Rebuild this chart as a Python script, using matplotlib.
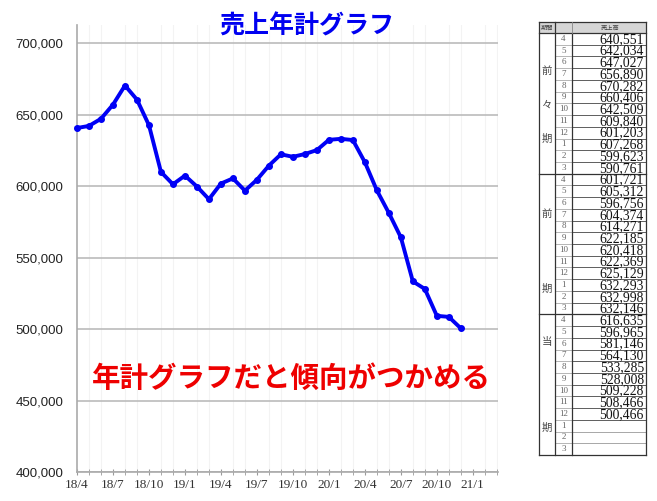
import matplotlib
matplotlib.use('Agg')

import numpy as np
import matplotlib.pyplot as plt
from matplotlib.patches import Rectangle
from matplotlib.ticker import FuncFormatter, MultipleLocator

# data (annual moving total of sales)
sales = [640551, 642034, 647027, 656890, 670282, 660406, 642509, 609840, 601203, 607268, 599623, 590761,
         601721, 605312, 596756, 604374, 614271, 622185, 620418, 622369, 625129, 632293, 632998, 632146,
         616635, 596965, 581146, 564130, 533285, 528008, 509228, 508466, 500466]
months = [4, 5, 6, 7, 8, 9, 10, 11, 12, 1, 2, 3]
periods = ['前々期', '前期', '当期']
xlabels = ['18/4', '18/7', '18/10', '19/1', '19/4', '19/7', '19/10', '20/1', '20/4', '20/7', '20/10', '21/1']

W, H = 657, 501
fig = plt.figure(figsize=(W / 100, H / 100), dpi=100)

# ---- line chart ----
ax = fig.add_axes([77 / W, 29 / H, 421 / W, 447 / H])
x = np.arange(len(sales))
ax.plot(x, sales, color='#0000f5', lw=2.8, marker='o', ms=4, clip_on=False, zorder=3)
ax.set_xlim(0, 35.1)
ax.set_ylim(400000, 712600)
ax.yaxis.set_major_locator(MultipleLocator(50000))
ax.yaxis.set_major_formatter(FuncFormatter(lambda v, p: '{:,.0f}'.format(v)))
ax.set_xticks(np.arange(0, 34, 3))
ax.set_xticklabels(xlabels, family='Liberation Serif', fontsize=9.5, color='#333333')
ax.set_xticks(np.arange(0, 36), minor=True)
ax.grid(axis='x', which='minor', color='#f3f3f3', lw=0.8)
ax.grid(axis='y', which='major', color='#bbbbbb', lw=1.2)
ax.tick_params(axis='y', length=0, pad=10, labelsize=9.5, labelcolor='#222222')
for lab in ax.get_yticklabels():
    lab.set_family('Liberation Sans')
ax.tick_params(axis='x', which='both', direction='inout', length=4, color='#999999', pad=3)
for s in ['top', 'right']:
    ax.spines[s].set_visible(False)
for s in ['left', 'bottom']:
    ax.spines[s].set_color('#aaaaaa')
    ax.spines[s].set_linewidth(1.2)

fig.text(307 / W, 1 - 26 / H, '売上年計グラフ', family='Noto Sans CJK JP', weight='bold',
         fontsize=18, color='#0000f0', ha='center', va='center')
fig.text(291 / W, 1 - 379 / H, '年計グラフだと傾向がつかめる', family='Noto Sans CJK JP', weight='bold',
         fontsize=20.5, color='#ee0000', ha='center', va='center')

# ---- table on the right ----
tx = fig.add_axes([0, 0, 1, 1])
tx.set_xlim(0, W)
tx.set_ylim(H, 0)
tx.axis('off')
tx.patch.set_alpha(0)

x0, x1, x2, x3 = 539, 555, 572, 646
top, hdr = 22, 33
rh = (455 - hdr) / 36.0

tx.add_patch(Rectangle((x0, top), x3 - x0, hdr - top, facecolor='#d6d6d6', edgecolor='none'))
tx.text((x0 + x1) / 2, (top + hdr) / 2, '期間', family='Noto Sans CJK JP', fontsize=4.5,
        color='#444444', ha='center', va='center')
tx.text((x1 + x3) / 2 + 10, (top + hdr) / 2, '売上高', family='Noto Sans CJK JP', fontsize=4.5,
        color='#444444', ha='center', va='center')

label_rows = [[3.2, 6.1, 9.0], [3.4, 9.8], [2.4, 9.7]]
for g, name in enumerate(periods):
    chars = [c for c in name]
    for c, r in zip(chars, label_rows[g]):
        tx.text((x0 + x1) / 2, hdr + (g * 12 + r) * rh, c, family='Noto Sans CJK JP',
                fontsize=7.5, color='#444444', ha='center', va='center')
    for i, m in enumerate(months):
        k = g * 12 + i
        yc = hdr + (k + 0.5) * rh
        tx.text((x1 + x2) / 2, yc, str(m), family='Liberation Serif', fontsize=6.5,
                color='#666666', ha='center', va='center')
        if k < len(sales):
            tx.text(x3 - 2, yc + 0.5, '{:,}'.format(sales[k]), family='Liberation Serif',
                    fontsize=9.8, color='#111111', ha='right', va='center')
        yb = hdr + (k + 1) * rh
        if i < 11:
            tx.plot([x1, x2], [yb, yb], color='#999999', lw=0.5)
            tx.plot([x2, x3], [yb, yb], color='#444444' if k < len(sales) else '#999999', lw=0.6)
    yb = hdr + (g + 1) * 12 * rh
    tx.plot([x0, x3], [yb, yb], color='#333333', lw=0.9)

tx.plot([x0, x3], [top, top], color='#333333', lw=0.9)
tx.plot([x0, x3], [hdr, hdr], color='#333333', lw=0.9)
tx.plot([x0, x0], [top, 455], color='#333333', lw=0.9)
tx.plot([x3, x3], [top, 455], color='#333333', lw=0.9)
tx.plot([x1, x1], [top, 455], color='#333333', lw=0.9)
tx.plot([x2, x2], [hdr, 455], color='#333333', lw=0.9)
tx.plot([x2, x2], [top, hdr], color='#888888', lw=0.6)

plt.savefig('out.png', dpi=100)
plt.close()
